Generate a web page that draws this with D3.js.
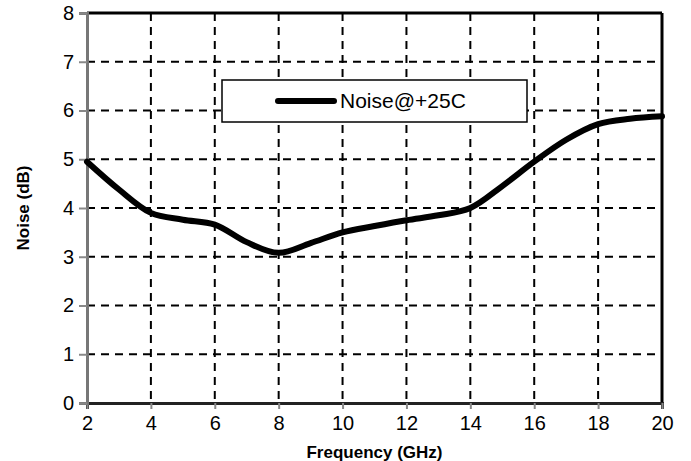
<!DOCTYPE html>
<html>
<head>
<meta charset="utf-8">
<script src="https://cdn.jsdelivr.net/npm/d3@7"></script>
<style>
body{margin:0;background:#fff;}
text{font-family:Arial,"Liberation Sans",sans-serif;}
</style>
</head>
<body>
<div id="chart"></div>
<script>
var width=691, height=461;
var margin={top:13, right:29, bottom:58, left:87};
var gwidth=width-margin.left-margin.right, gheight=height-margin.top-margin.bottom;

var freq=[2,3,4,5,6,7,8,9,10,11,12,13,14,15,16,17,18,19,20];
var noise=[4.95,4.38,3.9,3.76,3.66,3.3,3.08,3.28,3.5,3.63,3.75,3.85,4.0,4.45,4.95,5.4,5.72,5.83,5.88];
var xTicks=[2,4,6,8,10,12,14,16,18,20];
var yTicks=[0,1,2,3,4,5,6,7,8];
var seriesName="Noise@+25C";

var svg=d3.select('#chart').append('svg')
    .attr('width', width)
    .attr('height', height)
    .append('g')
    .attr('transform', 'translate('+margin.left+','+margin.top+')');

var x=d3.scaleLinear().domain([2,20]).range([0, gwidth]);
var y=d3.scaleLinear().domain([0,8]).range([gheight, 0]);

// grid
svg.selectAll('.vgrid').data(xTicks.slice(1,-1)).enter().append('line')
    .attr('x1', d=>x(d)).attr('x2', d=>x(d))
    .attr('y1', 0).attr('y2', gheight)
    .attr('stroke', '#000').attr('stroke-width', 2).attr('stroke-dasharray', '8,6');
svg.selectAll('.hgrid').data(yTicks.slice(1,-1)).enter().append('line')
    .attr('x1', 0).attr('x2', gwidth)
    .attr('y1', d=>y(d)).attr('y2', d=>y(d))
    .attr('stroke', '#000').attr('stroke-width', 2).attr('stroke-dasharray', '8,6');

// frame: top and right black
svg.append('line').attr('x1',0).attr('x2',gwidth).attr('y1',0).attr('y2',0)
    .attr('stroke','#000').attr('stroke-width',3);
svg.append('line').attr('x1',gwidth).attr('x2',gwidth).attr('y1',0).attr('y2',gheight)
    .attr('stroke','#000').attr('stroke-width',3);

// axes
var xAxis=svg.append('g')
    .attr('transform','translate(0,'+gheight+')')
    .call(d3.axisBottom(x).tickValues(xTicks).tickSize(6).tickPadding(7));
xAxis.select('.domain').attr('stroke','#222').attr('stroke-width',3);
xAxis.selectAll('.tick line').attr('stroke','#888').attr('stroke-width',2);
xAxis.selectAll('text').attr('font-size',20).attr('fill','#000');

var yAxis=svg.append('g')
    .call(d3.axisLeft(y).tickValues(yTicks).tickSize(8).tickPadding(5));
yAxis.select('.domain').attr('stroke','#777').attr('stroke-width',3);
yAxis.selectAll('.tick line').attr('stroke','#888').attr('stroke-width',2);
yAxis.selectAll('text').attr('font-size',20).attr('fill','#000');

// curve
var line=d3.line().x(d=>x(d[0])).y(d=>y(d[1])).curve(d3.curveCatmullRom.alpha(0.5));
svg.append('path')
    .datum(d3.zip(freq, noise))
    .attr('d', line)
    .attr('fill','none')
    .attr('stroke','#000')
    .attr('stroke-width',6)
    .attr('stroke-linecap','round');

// legend
var lg=svg.append('g').attr('transform','translate('+(222-margin.left)+','+(80-margin.top)+')');
lg.append('rect').attr('width',305).attr('height',42)
    .attr('fill','#fff').attr('stroke','#000').attr('stroke-width',1.5);
lg.append('line').attr('x1',56).attr('x2',112).attr('y1',21).attr('y2',21)
    .attr('stroke','#000').attr('stroke-width',6).attr('stroke-linecap','round');
lg.append('text').attr('x',118).attr('y',28).attr('font-size',21).text(seriesName);

// titles
svg.append('text')
    .attr('x', gwidth/2).attr('y', gheight+55)
    .attr('text-anchor','middle').attr('font-size',17).attr('font-weight','bold')
    .text('Frequency (GHz)');
svg.append('text')
    .attr('transform','translate('+(-58)+','+(gheight/2)+') rotate(-90)')
    .attr('text-anchor','middle').attr('font-size',17).attr('font-weight','bold')
    .text('Noise (dB)');
</script>
</body>
</html>
